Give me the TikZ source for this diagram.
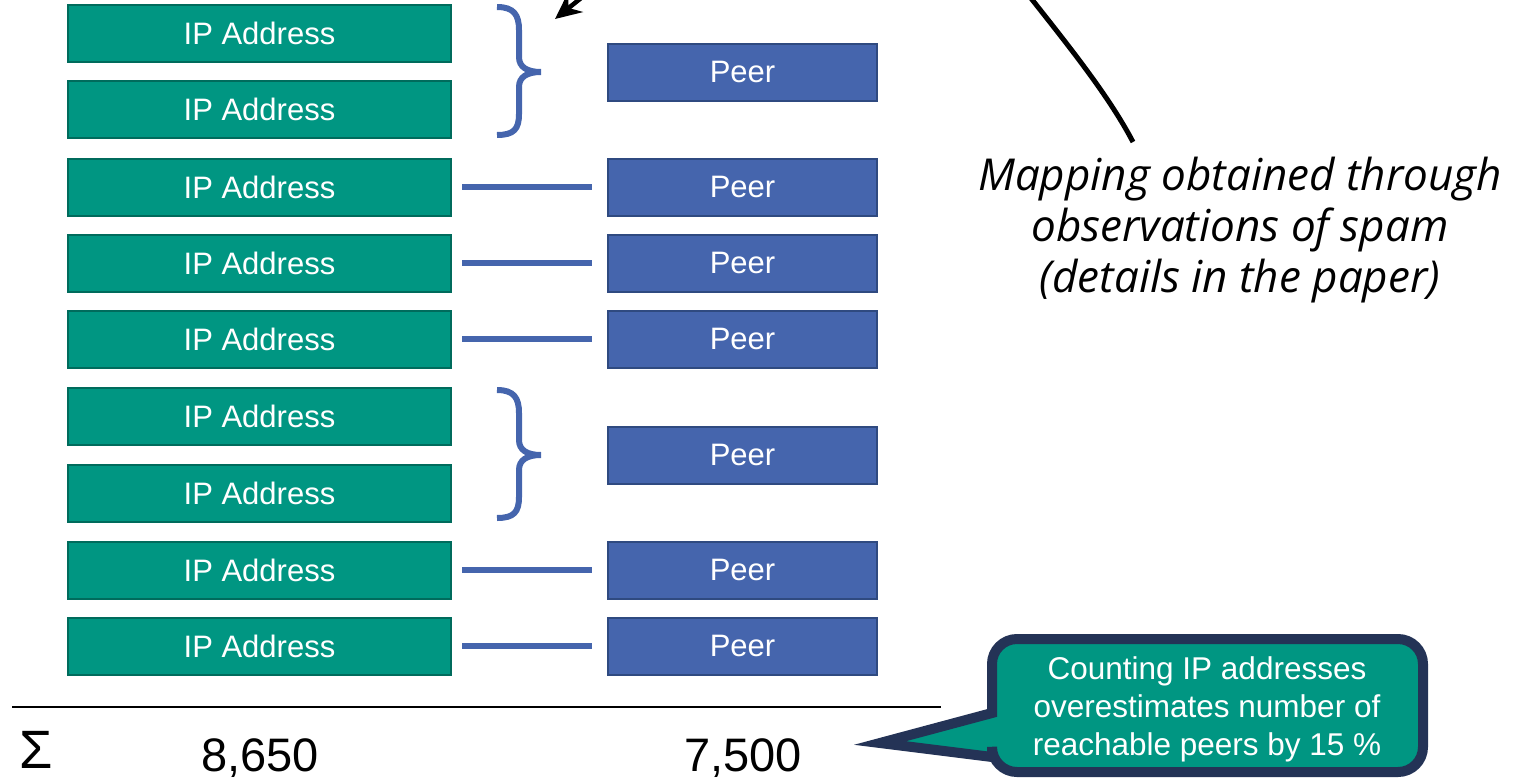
\documentclass[tikz,border=0pt]{standalone}
\usepackage{fontspec}
\setmainfont{Liberation Sans}
\newfontfamily\handfont{Open Sans}
\usetikzlibrary{arrows.meta}
\definecolor{ipfill}{HTML}{009682}
\definecolor{ipdraw}{HTML}{006B5C}
\definecolor{peerfill}{HTML}{4565AD}
\definecolor{peerdraw}{HTML}{2F4A80}
\definecolor{calldraw}{HTML}{243356}
\tikzset{
  ipbox/.style={rectangle, minimum width=383pt, minimum height=57pt, fill=ipfill, draw=ipdraw, line width=2pt, text=white, font=\fontsize{31}{37}\selectfont, inner sep=0pt},
  peerbox/.style={rectangle, minimum width=269pt, minimum height=57pt, fill=peerfill, draw=peerdraw, line width=2pt, text=white, font=\fontsize{31}{37}\selectfont, inner sep=0pt},
  conn/.style={draw=peerfill, line width=6pt, shorten <=10pt, shorten >=15pt},
  bracestyle/.style={draw=peerfill, line width=6pt, line cap=butt},
  sumtext/.style={font=\fontsize{47}{52}\selectfont, inner sep=0pt},
}
\begin{document}
\begin{tikzpicture}[x=1pt,y=-1pt]
\useasboundingbox (0,0) rectangle (1516,779);
% IP address boxes
\node[ipbox] (g1) at (259.5,33) {IP Address};
\node[ipbox] (g2) at (259.5,109) {IP Address};
\node[ipbox] (g3) at (259.5,187) {IP Address};
\node[ipbox] (g4) at (259.5,263) {IP Address};
\node[ipbox] (g5) at (259.5,339) {IP Address};
\node[ipbox] (g6) at (259.5,416) {IP Address};
\node[ipbox] (g7) at (259.5,493) {IP Address};
\node[ipbox] (g8) at (259.5,570) {IP Address};
\node[ipbox] (g9) at (259.5,646) {IP Address};
% Peer boxes
\node[peerbox] (p1) at (742.5,72) {Peer};
\node[peerbox] (p2) at (742.5,187) {Peer};
\node[peerbox] (p3) at (742.5,263) {Peer};
\node[peerbox] (p4) at (742.5,339) {Peer};
\node[peerbox] (p5) at (742.5,455) {Peer};
\node[peerbox] (p6) at (742.5,570) {Peer};
\node[peerbox] (p7) at (742.5,646) {Peer};
% connectors
\draw[conn] (g3.east) -- (p2.west);
\draw[conn] (g4.east) -- (p3.west);
\draw[conn] (g5.east) -- (p4.west);
\draw[conn] (g8.east) -- (p6.west);
\draw[conn] (g9.east) -- (p7.west);
% braces
\draw[bracestyle] (497,7) .. controls (514,7) and (519,15) .. (519,30) -- (519,57) .. controls (519,67) and (527,72) .. (541,72) .. controls (527,72) and (519,77) .. (519,87) -- (519,114) .. controls (519,129) and (514,135) .. (497,135);
\draw[bracestyle] (497,390) .. controls (514,390) and (519,398) .. (519,413) -- (519,440) .. controls (519,450) and (527,455) .. (541,455) .. controls (527,455) and (519,460) .. (519,470) -- (519,497) .. controls (519,512) and (514,518) .. (497,518);
% sum line
\coordinate (lineL) at (12,707);
\coordinate (lineR) at (941,707);
\draw[line width=2.5pt] (lineL) -- (lineR);
\node[sumtext, anchor=base] (sigma) at (36,768) {\fontsize{54}{58}\selectfont Σ};
\node[sumtext, anchor=base] (sumip) at (260,771) {8,650};
\node[sumtext, anchor=base] (sumpeer) at (743,771) {7,500};
% callout
\draw[draw=calldraw, line width=10pt, fill=ipfill, line join=miter]
  (992,713) [rounded corners=25pt] -- (992,639) -- (1423,639) -- (1423,772) -- (992,772) [sharp corners] -- (992,757) -- (880,743) -- cycle;
\node[text=white, align=center, font=\fontsize{31.5}{38}\selectfont] (calltext) at (1207,709) {Counting IP addresses\\overestimates number of\\reachable peers by 15 \%};
% handwritten note
\node[align=center, font=\handfont\itshape\fontsize{44}{51}\selectfont] (note) at (1240,230) {Mapping obtained through\\observations of spam\\(details in the paper)};
\coordinate (curveA) at (1030,-3);
\coordinate (curveB) at (1133,142);
\draw[line width=5pt] (curveA) .. controls (1072,50) and (1110,98) .. (curveB);
\coordinate (arrA) at (596,-14);
\coordinate (arrB) at (555,19);
\draw[line width=4.5pt, -{Stealth[length=26pt,width=24pt]}] (arrA) -- (arrB);
\end{tikzpicture}
\end{document}
